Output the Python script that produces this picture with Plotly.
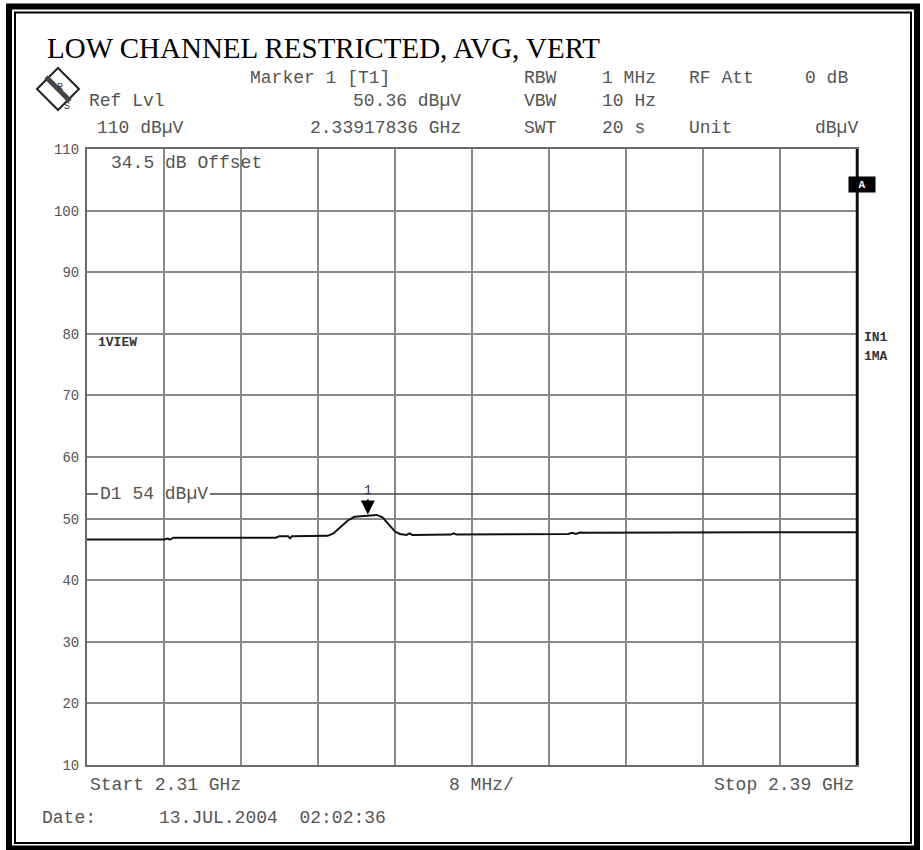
import plotly.graph_objects as go

# trace (GHz, dBuV)
freq_ghz = [2.3100, 2.3180, 2.3184, 2.3186, 2.3190, 2.3296, 2.3300, 2.3309, 2.3311,
            2.3313, 2.3350, 2.3356, 2.3364, 2.3371, 2.3378, 2.3390, 2.3401, 2.3407,
            2.3414, 2.3420, 2.3425, 2.3432, 2.3435, 2.3438, 2.3478, 2.3481, 2.3484,
            2.3600, 2.3604, 2.3608, 2.3612, 2.3620, 2.3900]
level_dbuv = [46.6, 46.6, 46.75, 46.6, 46.9, 46.9, 47.15, 47.15, 46.8,
              47.15, 47.2, 47.6, 48.7, 49.7, 50.3, 50.45, 50.6, 50.2,
              49.0, 47.9, 47.5, 47.35, 47.6, 47.35, 47.4, 47.6, 47.4,
              47.5, 47.7, 47.5, 47.75, 47.7, 47.8]

x_start, x_stop = 2.31, 2.39
x_div = 0.008
y_ticks = [10, 20, 30, 40, 50, 60, 70, 80, 90, 100, 110]
display_line = 54
marker_freq = 2.33917836
marker_level = 50.36

MONO = "Liberation Mono, Courier New, monospace"
SERIF = "Liberation Serif, Times New Roman, serif"
GREY_TXT = "#555555"

# plot area in pixels
W, H = 923, 850
L, R, T, B = 87, 857, 149, 765


def px(x):
    return (x - L) / (R - L)


def py(y):
    return (B - y) / (B - T)


fig = go.Figure()
fig.add_trace(go.Scatter(
    x=freq_ghz, y=level_dbuv, mode="lines",
    line=dict(color="#111111", width=2), hoverinfo="skip"
))

annotations = []


def label(text, x, y, size=18, anchor="left", color=GREY_TXT, font=MONO, **kw):
    annotations.append(dict(
        text=text, x=px(x), y=py(y), xref="paper", yref="paper",
        xanchor=anchor, yanchor="middle", showarrow=False,
        font=dict(family=font, size=size, color=color), **kw
    ))


label("LOW CHANNEL RESTRICTED, AVG, VERT", 45, 48, size=29, color="#000000", font=SERIF)

label("Marker 1 [T1]", 248, 78)
label("RBW", 522, 78)
label("1 MHz", 600, 78)
label("RF Att", 687, 78)
label("0 dB", 803, 78)

label("Ref Lvl", 87, 101)
label("50.36 dBµV", 463, 101, anchor="right")
label("VBW", 522, 101)
label("10 Hz", 600, 101)

label("110 dBµV", 95, 128)
label("2.33917836 GHz", 463, 128, anchor="right")
label("SWT", 522, 128)
label("20 s", 600, 128)
label("Unit", 687, 128)
label("dBµV", 860, 128, anchor="right")

label("34.5 dB Offset", 109, 163)
label("<b>1VIEW</b>", 96, 342, size=13, color="#333333")
label("<b>IN1</b>", 862, 337, size=13, color="#333333")
label("<b>1MA</b>", 862, 356, size=13, color="#333333")
annotations.append(dict(
    text="<b>A</b>", x=px(876), y=py(176), xref="paper", yref="paper",
    showarrow=False, bgcolor="#000000", width=24, height=13,
    font=dict(family=MONO, size=11, color="#ffffff")
))

label("Start 2.31 GHz", 88, 785)
label("8 MHz/", 447, 785)
label("Stop 2.39 GHz", 856, 785, anchor="right")
label("Date:", 40, 818)
label("13.JUL.2004  02:02:36", 157, 818)

# display line label
annotations.append(dict(
    text="D1 54 dBµV", x=px(98), y=display_line, xref="paper", yref="y",
    xanchor="left", yanchor="middle", showarrow=False,
    font=dict(family=MONO, size=18, color=GREY_TXT)
))

# marker 1
annotations.append(dict(
    text="1", x=marker_freq, y=marker_level, xref="x", yref="y",
    showarrow=True, arrowhead=2, arrowsize=1.4, arrowwidth=2, arrowcolor="#000000",
    ax=0, ay=-24, standoff=0, yshift=2,
    font=dict(family=MONO, size=13, color="#333333")
))

shapes = [
    # display line D1, broken around its label
    dict(type="line", xref="paper", yref="y", x0=0, x1=px(98), y0=display_line, y1=display_line,
         line=dict(color="#444444", width=1.5)),
    dict(type="line", xref="paper", yref="y", x0=px(210), x1=1, y0=display_line, y1=display_line,
         line=dict(color="#444444", width=1.5)),
    # right edge of the grid is drawn darker
    dict(type="line", xref="paper", yref="paper", x0=1, x1=1, y0=0, y1=1,
         line=dict(color="#111111", width=2.5)),
    # outer double frame
    dict(type="rect", xref="paper", yref="paper", x0=px(9), x1=px(917), y0=py(6.5), y1=py(848.5),
         line=dict(color="#000000", width=6)),
    dict(type="rect", xref="paper", yref="paper", x0=px(15), x1=px(911), y0=py(12.5), y1=py(843),
         line=dict(color="#000000", width=2)),
    # R&S logo
    dict(type="path", xref="paper", yref="paper",
         path=f"M {px(58)} {py(68)} L {px(79)} {py(89)} L {px(58)} {py(110)} L {px(37)} {py(89)} Z",
         line=dict(color="#222222", width=2)),
    dict(type="line", xref="paper", yref="paper", x0=px(46), y0=py(77), x1=px(70), y1=py(101),
         line=dict(color="#444444", width=5)),
]
annotations.append(dict(text="R", x=px(55), y=py(80), xref="paper", yref="paper", showarrow=False,
                        font=dict(family=MONO, size=10, color="#333333")))
annotations.append(dict(text="S", x=px(62), y=py(99), xref="paper", yref="paper", showarrow=False,
                        font=dict(family=MONO, size=10, color="#333333")))

fig.update_layout(
    width=W, height=H,
    margin=dict(l=L, r=W - R, t=T, b=H - B),
    plot_bgcolor="#ffffff", paper_bgcolor="#ffffff",
    showlegend=False,
    annotations=annotations,
    shapes=shapes,
    xaxis=dict(
        range=[x_start, x_stop], dtick=x_div, tick0=x_start,
        showticklabels=False, ticks="",
        showgrid=True, gridcolor="#8a8a8a", gridwidth=1.5,
        zeroline=False, showline=True, mirror=True, linecolor="#6a6a6a", linewidth=2
    ),
    yaxis=dict(
        range=[10, 110], tickvals=y_ticks, ticks="", ticklabelstandoff=3,
        tickfont=dict(family=MONO, size=14, color=GREY_TXT),
        showgrid=True, gridcolor="#8a8a8a", gridwidth=1.5,
        zeroline=False, showline=True, mirror=True, linecolor="#6a6a6a", linewidth=2
    ),
)

# page body has an 8px default margin; drop it so the figure sits at (0, 0)
fig.write_html("out.html", config={"displayModeBar": False},
               post_script="document.body.style.margin = '0';")
